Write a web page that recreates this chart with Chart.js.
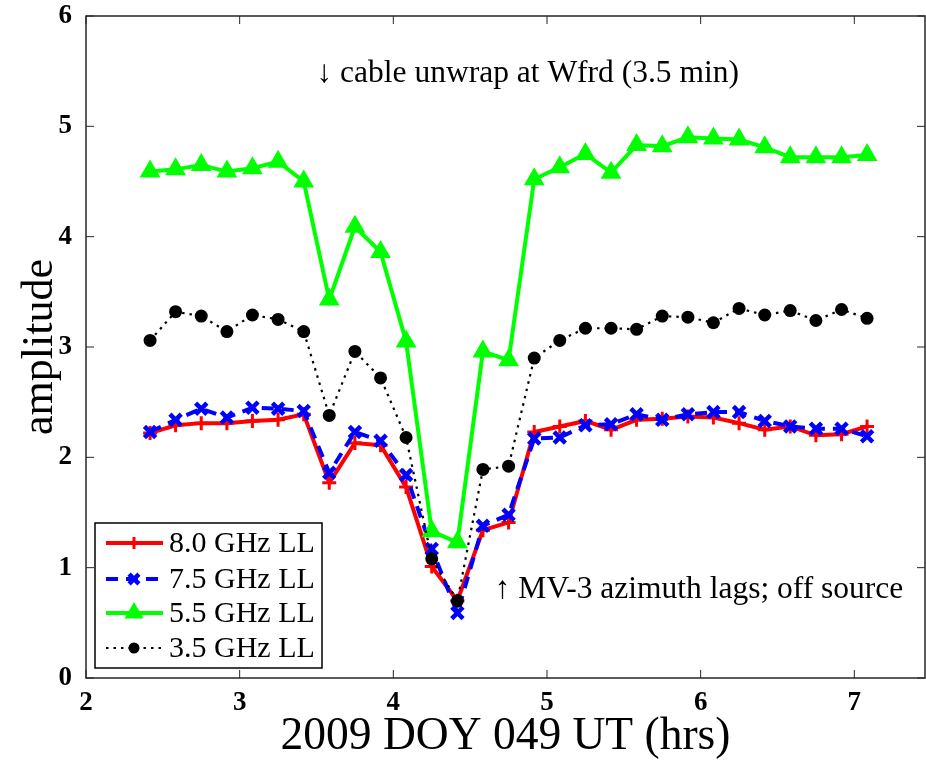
<!DOCTYPE html>
<html>
<head>
<meta charset="utf-8">
<script src="https://cdn.jsdelivr.net/npm/chart.js@4.4.0/dist/chart.umd.min.js"></script>
<style>
  html, body { margin: 0; padding: 0; background: #fff; }
</style>
</head>
<body>
<canvas id="chart" width="926" height="760"></canvas>
<script>
// UT hours of each sample (every 10 min)
const hours = [2.417, 2.583, 2.75, 2.917, 3.083, 3.25, 3.417, 3.583, 3.75, 3.917,
               4.083, 4.25, 4.417, 4.583, 4.75, 4.917, 5.083, 5.25, 5.417, 5.583,
               5.75, 5.917, 6.083, 6.25, 6.417, 6.583, 6.75, 6.917, 7.083];

const amp80 = [2.22, 2.29, 2.31, 2.31, 2.33, 2.34, 2.39, 1.77, 2.13, 2.11,
               1.73, 1.01, 0.70, 1.34, 1.41, 2.23, 2.28, 2.33, 2.25, 2.34,
               2.35, 2.37, 2.36, 2.31, 2.25, 2.28, 2.20, 2.21, 2.28];
const amp75 = [2.23, 2.34, 2.44, 2.36, 2.45, 2.44, 2.42, 1.86, 2.23, 2.15,
               1.84, 1.17, 0.59, 1.38, 1.48, 2.17, 2.18, 2.29, 2.30, 2.39,
               2.34, 2.39, 2.41, 2.41, 2.33, 2.28, 2.26, 2.26, 2.19];
const amp55 = [4.59, 4.61, 4.65, 4.59, 4.62, 4.68, 4.50, 3.43, 4.09, 3.86,
               3.05, 1.33, 1.23, 2.96, 2.88, 4.52, 4.63, 4.75, 4.58, 4.83,
               4.82, 4.90, 4.89, 4.88, 4.81, 4.72, 4.72, 4.72, 4.74];
const amp35 = [3.06, 3.32, 3.28, 3.14, 3.29, 3.25, 3.14, 2.38, 2.96, 2.72,
               2.18, 1.08, 0.70, 1.89, 1.92, 2.90, 3.06, 3.17, 3.17, 3.16,
               3.28, 3.27, 3.22, 3.35, 3.29, 3.33, 3.24, 3.34, 3.26];

const seriesNames = ["8.0 GHz LL", "7.5 GHz LL", "5.5 GHz LL", "3.5 GHz LL"];
const xTicks = [2, 3, 4, 5, 6, 7];
const yTicks = [0, 1, 2, 3, 4, 5, 6];

const FONT = "'Liberation Serif', 'Times New Roman', serif";

const pts = (vals) => vals.map((v, i) => ({ x: hours[i], y: v }));

const datasets = [
  {
    label: seriesNames[0], data: pts(amp80), order: 4,
    borderColor: "#ff0000", borderWidth: 4,
    pointStyle: "cross", pointRadius: 7, pointBorderWidth: 3,
    pointBorderColor: "#ff0000", pointBackgroundColor: "#ff0000"
  },
  {
    label: seriesNames[1], data: pts(amp75), order: 3,
    borderColor: "#0000ff", borderWidth: 4, borderDash: [12, 8],
    pointStyle: "crossRot", pointRadius: 8, pointBorderWidth: 4.5,
    pointBorderColor: "#0000ff", pointBackgroundColor: "#0000ff"
  },
  {
    label: seriesNames[2], data: pts(amp55), order: 2,
    borderColor: "#00ff00", borderWidth: 4,
    pointStyle: "triangle", pointRadius: 9, pointBorderWidth: 3,
    pointBorderColor: "#00ff00", pointBackgroundColor: "#00ff00"
  },
  {
    label: seriesNames[3], data: pts(amp35), order: 1,
    borderColor: "#000000", borderWidth: 2.2, borderDash: [2.5, 5],
    pointStyle: "circle", pointRadius: 6.5, pointBorderWidth: 0,
    pointBorderColor: "#000000", pointBackgroundColor: "#000000"
  }
];

const line = (ctx, x1, y1, x2, y2) => {
  ctx.beginPath(); ctx.moveTo(x1, y1); ctx.lineTo(x2, y2); ctx.stroke();
};

// box, inward ticks, notes and legend in the matlab style
const frame = {
  id: "frame",
  afterDraw(chart) {
    const { ctx, chartArea: a, scales: { x, y } } = chart;
    ctx.save();
    ctx.strokeStyle = "#262626";
    ctx.lineWidth = 1.5;
    ctx.setLineDash([]);
    ctx.strokeRect(a.left, a.top, a.right - a.left, a.bottom - a.top);
    ctx.lineWidth = 1;
    xTicks.forEach(v => {
      const px = x.getPixelForValue(v);
      line(ctx, px, a.bottom, px, a.bottom - 8);
      line(ctx, px, a.top, px, a.top + 8);
    });
    yTicks.forEach(v => {
      const py = y.getPixelForValue(v);
      line(ctx, a.left, py, a.left + 8, py);
      line(ctx, a.right, py, a.right - 8, py);
    });

    // notes
    ctx.fillStyle = "#000";
    ctx.font = "31.5px " + FONT;
    ctx.textAlign = "left";
    ctx.textBaseline = "middle";
    ctx.fillText("\u2193 cable unwrap at Wfrd (3.5 min)", x.getPixelForValue(3.5), y.getPixelForValue(5.48));
    ctx.fillText("\u2191 MV-3 azimuth lags; off source", x.getPixelForValue(4.66), y.getPixelForValue(0.80));

    // legend
    const bx = a.left + 9, by = 523, bw = 227, bh = 145;
    ctx.fillStyle = "#fff";
    ctx.fillRect(bx, by, bw, bh);
    ctx.strokeStyle = "#000";
    ctx.lineWidth = 1.5;
    ctx.strokeRect(bx, by, bw, bh);
    const rows = [543, 579, 613, 648];
    datasets.forEach((ds, i) => {
      const ry = rows[i];
      ctx.strokeStyle = ds.borderColor;
      ctx.lineWidth = ds.borderWidth;
      ctx.setLineDash(ds.borderDash || []);
      line(ctx, bx + 11, ry, bx + 68, ry);
      ctx.setLineDash([]);
      ctx.fillStyle = ds.pointBorderColor;
      ctx.strokeStyle = ds.pointBorderColor;
      ctx.lineWidth = ds.pointBorderWidth;
      Chart.helpers.drawPoint(ctx, {
        pointStyle: ds.pointStyle, radius: ds.pointStyle === "circle" ? 5.5 : ds.pointRadius - 1,
        rotation: 0, borderWidth: ds.pointBorderWidth
      }, bx + 39, ry);
      ctx.fillStyle = "#000";
      ctx.font = "30px " + FONT;
      ctx.textAlign = "left";
      ctx.textBaseline = "middle";
      ctx.fillText(ds.label, bx + 74, ry + 1);
    });
    ctx.restore();
  }
};

new Chart(document.getElementById("chart"), {
  type: "line",
  data: { datasets: datasets },
  plugins: [frame],
  options: {
    responsive: false,
    animation: false,
    devicePixelRatio: 1,
    layout: { autoPadding: false, padding: { left: 0, right: 1, top: 16, bottom: 0 } },
    elements: { line: { tension: 0, fill: false } },
    plugins: { legend: { display: false }, tooltip: { enabled: false } },
    scales: {
      x: {
        type: "linear", min: 2, max: 7.46,
        afterBuildTicks: (s) => { s.ticks = xTicks.map(v => ({ value: v })); },
        afterFit: (s) => { s.height = 82; s.paddingLeft = 0; s.paddingRight = 0; },
        grid: { display: false }, border: { display: false },
        ticks: { color: "#000", padding: 1, font: { family: FONT, size: 27, weight: "bold" } },
        title: {
          display: true, text: "2009 DOY 049 UT (hrs)", color: "#000",
          font: { family: FONT, size: 45.5, lineHeight: 1 }, padding: { top: 0, bottom: 0 }
        }
      },
      y: {
        type: "linear", min: 0, max: 6,
        afterBuildTicks: (s) => { s.ticks = yTicks.map(v => ({ value: v })); },
        afterFit: (s) => { s.width = 86; s.paddingTop = 0; s.paddingBottom = 0; },
        grid: { display: false }, border: { display: false },
        ticks: { color: "#000", padding: 6, font: { family: FONT, size: 27, weight: "bold" } },
        title: {
          display: true, text: "amplitude", color: "#000",
          font: { family: FONT, size: 44, lineHeight: 1 }, padding: { top: 18, bottom: 0 }
        }
      }
    }
  }
});
</script>
</body>
</html>
